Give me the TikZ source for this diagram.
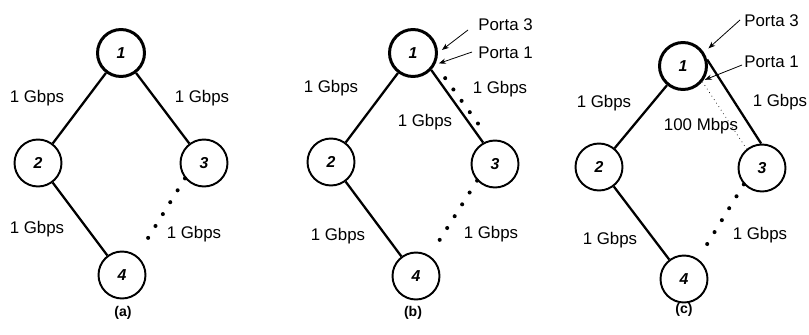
\documentclass[tikz,border=0pt]{standalone}
\usepackage{fontspec}
\setmainfont{Liberation Sans}
\usetikzlibrary{arrows.meta}

\tikzset{
  vertex/.style={circle, draw, line width=1.1pt, minimum size=0.94cm, inner sep=0pt, font=\fontsize{9}{10}\selectfont\bfseries\itshape},
  rootvertex/.style={vertex, line width=1.7pt},
  link/.style={line width=1.3pt},
  dotlink/.style={line width=2.3pt, line cap=round, dash pattern=on 0pt off 0.28cm},
  thinlink/.style={line width=0.4pt, dotted},
  speed/.style={inner sep=0pt, font=\fontsize{9.6}{11}\selectfont},
  pointer/.style={line width=0.45pt, -{Stealth[length=4pt,width=3pt]}},
  caption/.style={inner sep=0pt, font=\fontsize{8}{9}\selectfont\bfseries}
}

\begin{document}
\begin{tikzpicture}[x=0.02cm, y=-0.02cm]
  \useasboundingbox (0,0) rectangle (809,335);

  % (a)
  \node[rootvertex] (a1) at (121,53) {1};
  \node[vertex] (a2) at (38,163) {2};
  \node[vertex] (a3) at (204,163) {3};
  \node[vertex] (a4) at (122,275) {4};
  \draw[link] (a1) -- (a2);
  \draw[link] (a1) -- (a3);
  \draw[link] (a2) -- (a4);
  \draw[dotlink, shorten >=0.24cm] (a3.219) -- (a4.52);
  \node[speed] (sa12) at (37,98) {1 Gbps};
  \node[speed] (sa13) at (202,98) {1 Gbps};
  \node[speed] (sa24) at (37,229) {1 Gbps};
  \node[speed] (sa34) at (194,234) {1 Gbps};
  \node[caption] (capa) at (123,313) {(a)};

  % (b)
  \node[rootvertex] (b1) at (413,53) {1};
  \node[vertex] (b2) at (331,162) {2};
  \node[vertex] (b3) at (495,164) {3};
  \node[vertex] (b4) at (416,276) {4};
  \draw[link] (b1) -- (b2);
  \draw[link] (b1.-43) -- (b3.119);
  \draw[link] (b2) -- (b4);
  \draw[dotlink, shorten <=0.34cm, shorten >=0.18cm] (b1.-27) -- (b3.102);
  \draw[dotlink, shorten >=0.26cm] (b3.223) -- (b4.56);
  \node[speed] (sb12) at (331,88) {1 Gbps};
  \node[speed] (sb13) at (425,122) {1 Gbps};
  \node[speed] (sb13d) at (500,89) {1 Gbps};
  \node[speed] (sb24) at (338,236) {1 Gbps};
  \node[speed] (sb34) at (491,234) {1 Gbps};
  \node[speed, anchor=west] (pb3) at (478,25) {Porta 3};
  \node[speed, anchor=west] (pb1) at (478,53) {Porta 1};
  \coordinate (tb3) at (468,30);
  \coordinate (tb1) at (472,52);
  \draw[pointer, shorten >=0.1cm] (tb3) -- (b1.0);
  \draw[pointer, shorten >=0.08cm] (tb1) -- (b1.-28);
  \node[caption] (capb) at (413,313) {(b)};

  % (c)
  \node[rootvertex] (c1) at (683,66) {1};
  \node[vertex] (c2) at (599,167) {2};
  \node[vertex] (c3) at (762,168) {3};
  \node[vertex] (c4) at (684,279) {4};
  \draw[link] (c1) -- (c2);
  \draw[link] (c1.15) -- (c3.92);
  \draw[link] (c2) -- (c4);
  \draw[thinlink] (c1.-39) -- (c3.129);
  \draw[dotlink, shorten >=0.2cm] (c3.222) -- (c4.55);
  \node[speed] (sc12) at (604,103) {1 Gbps};
  \node[speed] (sc13) at (780,102) {1 Gbps};
  \node[speed] (sc13d) at (701,126) {100 Mbps};
  \node[speed] (sc24) at (610,240) {1 Gbps};
  \node[speed] (sc34) at (760,235) {1 Gbps};
  \node[speed, anchor=west] (pc3) at (744,21) {Porta 3};
  \node[speed, anchor=west] (pc1) at (744,62) {Porta 1};
  \coordinate (tc3) at (740,20);
  \coordinate (tc1) at (742,65);
  \draw[pointer, shorten >=0.12cm] (tc3) -- (c1.33);
  \draw[pointer, shorten >=0.03cm] (tc1) -- (c1.-35);
  \node[caption] (capc) at (684,310) {(c)};
\end{tikzpicture}
\end{document}
